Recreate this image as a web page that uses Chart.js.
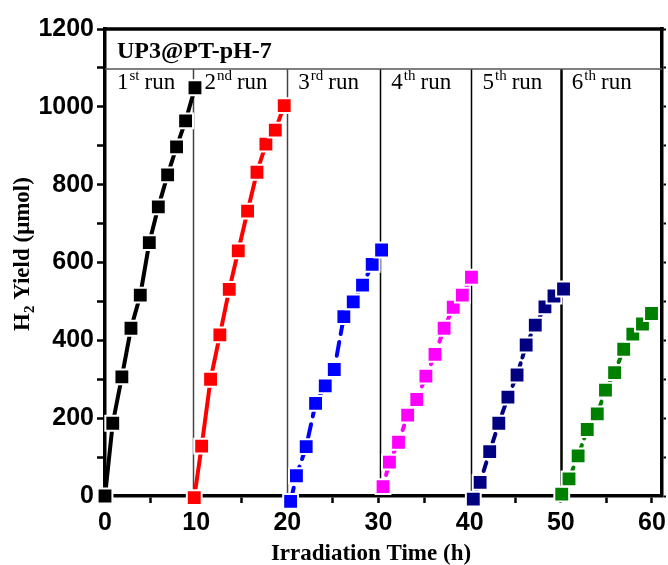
<!DOCTYPE html>
<html>
<head>
<meta charset="utf-8">
<script src="https://cdn.jsdelivr.net/npm/chart.js@4.4.0/dist/chart.umd.min.js"></script>
<style>
  body { margin: 0; background: #fff; }
  #wrap { width: 668px; height: 565px; position: relative; }
</style>
</head>
<body>
<div id="wrap"><canvas id="myChart"></canvas></div>
<script>
// run labels and where each run starts (separator lines)
const runNumbers = ['1', '2', '3', '4', '5', '6'];
const runSuffix = ['st', 'nd', 'rd', 'th', 'th', 'th'];
const runStarts = [0, 9.7, 20.0, 30.2, 40.2, 50.0];
const runColors = ['#000000', '#ff0000', '#0000ff', '#ff00ff', '#000080', '#008000'];
const runDash = [[], [], [14, 8], [5, 7], [9, 6], [5, 7]];
const sepWidth = [1.5, 1.5, 1.5, 1.5, 2.5];

// irradiation time (h) and H2 yield (umol), one pair per run
const time1 = [0, 0.85, 1.85, 2.85, 3.87, 4.86, 5.85, 6.87, 7.85, 8.84, 9.87];
const yield1 = [0, 187, 306, 431, 516, 651, 743, 825, 897, 964, 1049];
const time2 = [9.79, 10.6, 11.58, 12.6, 13.63, 14.62, 15.64, 16.67, 17.65, 18.68, 19.66];
const yield2 = [-4, 128, 300, 414, 531, 630, 732, 832, 904, 940, 1003];
const time3 = [20.36, 21.0, 22.07, 23.1, 24.16, 25.15, 26.2, 27.23, 28.25, 29.31, 30.34];
const yield3 = [-14, 52, 127, 238, 283, 325, 461, 499, 542, 595, 632];
const time4 = [30.5, 31.2, 32.2, 33.2, 34.2, 35.2, 36.2, 37.2, 38.2, 39.2, 40.2];
const yield4 = [24, 87, 138, 208, 248, 308, 364, 431, 485, 516, 562];
const time5 = [40.4, 41.15, 42.2, 43.2, 44.2, 45.2, 46.2, 47.2, 48.26, 49.25, 50.3];
const yield5 = [-8, 35, 114, 187, 254, 311, 388, 439, 486, 514, 532];
const time6 = [50.1, 50.9, 51.9, 52.9, 54.0, 54.9, 55.9, 56.9, 57.9, 58.96, 59.95];
const yield6 = [5, 44, 103, 171, 211, 272, 317, 377, 416, 442, 469];

const sampleName = 'UP3@PT-pH-7';
const xTitle = 'Irradiation Time (h)';

const times = [time1, time2, time3, time4, time5, time6];
const yields = [yield1, yield2, yield3, yield4, yield5, yield6];

const sans = '"Liberation Sans", Arial, sans-serif';
const serif = '"Liberation Serif", "Times New Roman", serif';

const datasets = times.map((t, i) => ({
    label: runNumbers[i] + runSuffix[i] + ' run',
    data: t.map((x, j) => ({ x: x, y: yields[i][j] })),
    borderColor: runColors[i],
    backgroundColor: runColors[i],
    borderWidth: 4,
    borderDash: runDash[i],
    borderCapStyle: 'round',
    pointStyle: 'rect',
    pointRadius: 10.5,
    pointHoverRadius: 10.5,
    pointBackgroundColor: runColors[i],
    pointBorderColor: '#ffffff',
    pointBorderWidth: 2,
    tension: 0,
    clip: false
}));

const decorations = {
    id: 'decorations',
    beforeDatasetsDraw(chart) {
        const ctx = chart.ctx;
        const area = chart.chartArea;
        const xs = chart.scales.x;
        const boxBottom = area.top + 40;
        ctx.save();
        // run separators
        runStarts.slice(1).forEach((s, i) => {
            const px = Math.round(xs.getPixelForValue(s)) + 0.5;
            ctx.strokeStyle = i < 2 ? '#444' : '#000';
            ctx.lineWidth = sepWidth[i];
            ctx.beginPath();
            ctx.moveTo(px, boxBottom);
            ctx.lineTo(px, area.bottom);
            ctx.stroke();
        });
        ctx.restore();
    },
    afterDraw(chart) {
        const ctx = chart.ctx;
        const area = chart.chartArea;
        const xs = chart.scales.x;
        const boxBottom = area.top + 40;
        ctx.save();
        // top frame and sample box
        ctx.strokeStyle = '#000';
        ctx.lineWidth = 3.5;
        ctx.beginPath();
        ctx.moveTo(area.left - 1.75, area.top);
        ctx.lineTo(area.right + 1.75, area.top);
        ctx.stroke();
        ctx.strokeStyle = '#555';
        ctx.lineWidth = 1.5;
        ctx.beginPath();
        ctx.moveTo(area.left, boxBottom);
        ctx.lineTo(area.right, boxBottom);
        ctx.stroke();

        ctx.fillStyle = '#000';
        ctx.textBaseline = 'alphabetic';
        ctx.textAlign = 'left';
        ctx.font = 'bold 24px ' + serif;
        ctx.fillText(sampleName, area.left + 12, area.top + 29);

        // run labels with superscripts
        runStarts.forEach((s, i) => {
            let px = xs.getPixelForValue(s) + 11;
            if (i === 0) px = area.left + 12;
            const base = area.top + 60;
            ctx.font = '23px ' + serif;
            ctx.fillText(runNumbers[i], px, base);
            px += ctx.measureText(runNumbers[i]).width + 1;
            ctx.font = '15px ' + serif;
            ctx.fillText(runSuffix[i], px, base - 9);
            px += ctx.measureText(runSuffix[i]).width + 5;
            ctx.font = '23px ' + serif;
            ctx.fillText('run', px, base);
        });

        // x title
        ctx.font = 'bold 23px ' + serif;
        ctx.textAlign = 'center';
        ctx.fillText(xTitle, 371, 560);

        // y title with subscript
        ctx.translate(29, 254);
        ctx.rotate(-Math.PI / 2);
        const partA = 'H';
        const partB = '2';
        const partC = ' Yield (\u03bcmol)';
        ctx.font = 'bold 23px ' + serif;
        const wA = ctx.measureText(partA).width;
        const wC = ctx.measureText(partC).width;
        ctx.font = 'bold 15px ' + serif;
        const wB = ctx.measureText(partB).width;
        let cx = -(wA + wB + wC) / 2;
        ctx.textAlign = 'left';
        ctx.font = 'bold 23px ' + serif;
        ctx.fillText(partA, cx, 0);
        cx += wA;
        ctx.font = 'bold 15px ' + serif;
        ctx.fillText(partB, cx, 5);
        cx += wB;
        ctx.font = 'bold 23px ' + serif;
        ctx.fillText(partC, cx, 0);
        ctx.restore();
    }
};

const config = {
    type: 'line',
    data: { datasets: datasets },
    options: {
        responsive: true,
        maintainAspectRatio: false,
        animation: false,
        layout: { autoPadding: false, padding: { top: 29, right: 0, bottom: 0, left: 0 } },
        plugins: {
            legend: { display: false },
            tooltip: { enabled: false }
        },
        scales: {
            x: {
                type: 'linear',
                min: 0,
                max: 61.1,
                border: { color: '#000', width: 3.5 },
                grid: { drawOnChartArea: false, tickLength: 7, tickWidth: 2.5, tickColor: '#000' },
                ticks: {
                    stepSize: 5,
                    includeBounds: false,
                    autoSkip: false,
                    maxRotation: 0,
                    padding: 5,
                    color: '#000',
                    font: { family: sans, size: 25, weight: 'bold' },
                    callback: v => (v % 10 === 0 ? v : '')
                },
                afterFit: s => { s.height = 69; s.paddingLeft = 0; s.paddingRight = 0; }
            },
            y: {
                min: 0,
                max: 1200,
                border: { color: '#000', width: 3.5 },
                grid: { drawOnChartArea: false, tickLength: 8, tickWidth: 2.5, tickColor: '#000' },
                ticks: {
                    stepSize: 100,
                    includeBounds: false,
                    autoSkip: false,
                    padding: 3,
                    color: '#000',
                    font: { family: sans, size: 25, weight: 'bold' },
                    callback: v => (v % 200 === 0 ? v : '')
                },
                afterFit: s => { s.width = 105; s.paddingTop = 0; s.paddingBottom = 0; }
            },
            y2: {
                position: 'right',
                min: 0,
                max: 1200,
                border: { color: '#000', width: 3.5 },
                grid: { drawOnChartArea: false, tickLength: 4, tickWidth: 2, tickColor: '#000' },
                ticks: { display: false, stepSize: 100 },
                afterFit: s => { s.width = 6; s.paddingTop = 0; s.paddingBottom = 0; }
            }
        }
    },
    plugins: [decorations]
};

const myChart = new Chart(document.getElementById('myChart'), config);
</script>
</body>
</html>
